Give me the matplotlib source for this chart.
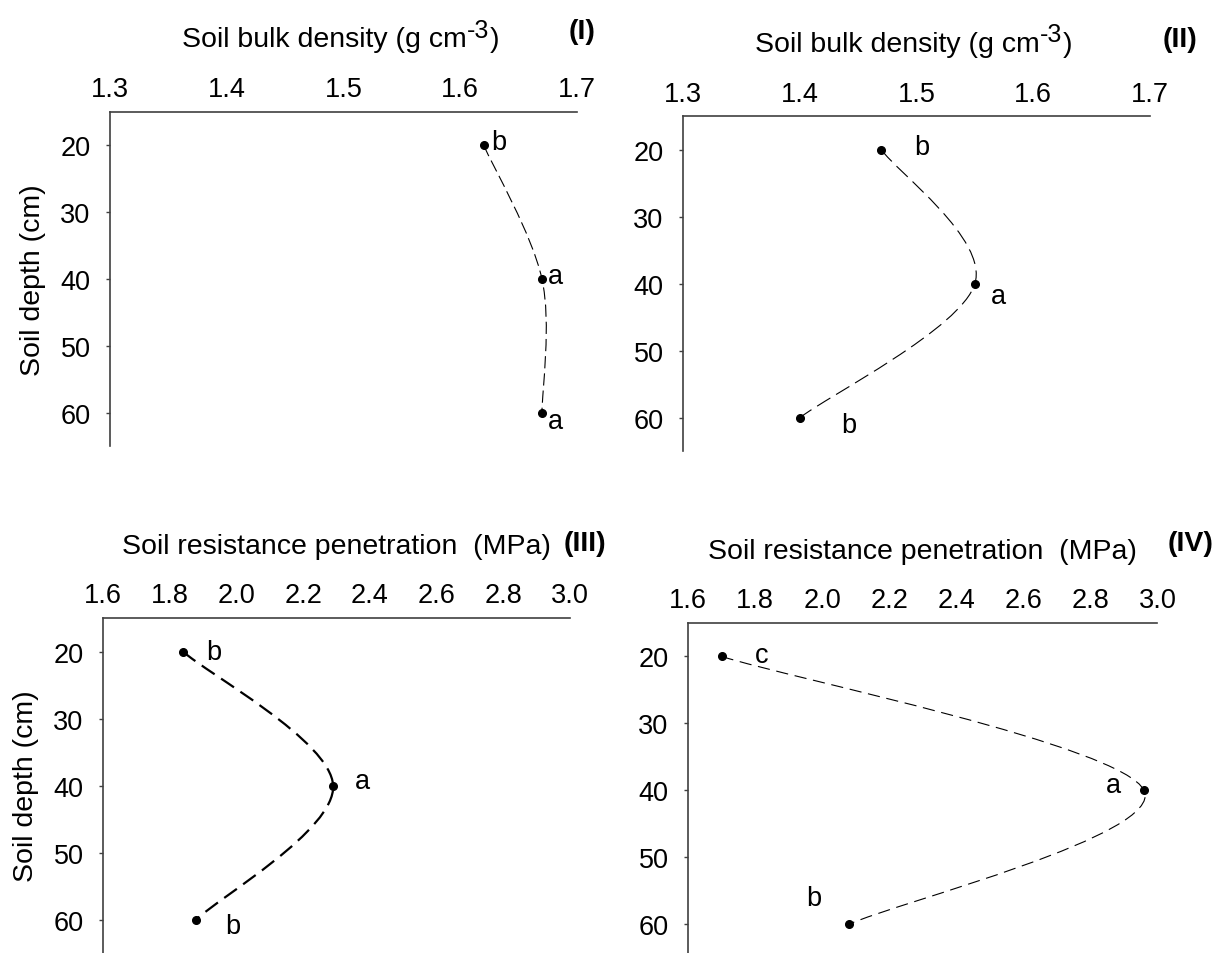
import numpy as np
import matplotlib
matplotlib.use('Agg')
import matplotlib.pyplot as plt
from matplotlib.path import Path
from matplotlib.patches import PathPatch

plt.rcParams['font.family'] = ['Liberation Sans', 'DejaVu Sans']
plt.rcParams['font.size'] = 19

# data
depth = [20, 40, 60]
bulk_I = [1.62, 1.67, 1.67]
bulk_II = [1.47, 1.55, 1.40]
pen_III = [1.84, 2.29, 1.88]
pen_IV = [1.70, 2.96, 2.08]
letters_I = ['b', 'a', 'a']
letters_II = ['b', 'a', 'b']
letters_III = ['b', 'a', 'b']
letters_IV = ['c', 'a', 'b']

bulk_ticks = [1.3, 1.4, 1.5, 1.6, 1.7]
pen_ticks = [1.6, 1.8, 2.0, 2.2, 2.4, 2.6, 2.8, 3.0]
depth_ticks = [20, 30, 40, 50, 60]

bulk_title = ['Soil bulk density (g cm', '-3', ')']
pen_title = 'Soil resistance penetration  (MPa)'

TXT = 20.5
SPINE = '#404040'


def smooth_path(x, y):
    # bezier segments like a spreadsheet "smoothed line"
    pts = np.column_stack([x, y]).astype(float)
    n = len(pts)
    verts = [pts[0]]
    codes = [Path.MOVETO]
    for i in range(n - 1):
        p0 = pts[max(i - 1, 0)]
        p1 = pts[i]
        p2 = pts[i + 1]
        p3 = pts[min(i + 2, n - 1)]
        verts += [p1 + (p2 - p0) / 6, p2 - (p3 - p1) / 6, p2]
        codes += [Path.CURVE4] * 3
    return Path(verts, codes)


fig = plt.figure(figsize=(12.16, 9.54), dpi=100)

panels = [
    # rect, x values, letters, ticks, title, tag, tag pos, letter offsets (pt), lw, dashes
    ([0.0905, 0.531, 0.384, 0.351], bulk_I, letters_I, bulk_ticks, bulk_title, '(I)', (1.01, 1.24),
     [(11, 2), (10, 2), (10, -6)], 0.8, (11, 4.5)),
    ([0.5617, 0.526, 0.384, 0.351], bulk_II, letters_II, bulk_ticks, bulk_title, '(II)', (1.064, 1.23),
     [(29, 2), (17, -9), (35, -5)], 0.8, (14, 6)),
    ([0.0847, 0.0, 0.384, 0.351], pen_III, letters_III, pen_ticks, pen_title, '(III)', (1.032, 1.225),
     [(22, 0), (21, 3), (26, -5)], 1.6, (7, 3.5)),
    ([0.5658, -0.005, 0.386, 0.351], pen_IV, letters_IV, pen_ticks, pen_title, '(IV)', (1.07, 1.24),
     [(29, 1), (-22, 4), (-25, 19)], 0.8, (11, 6)),
]

for idx, (rect, xv, lets, ticks, title, tag, tagpos, offs, lw, dash) in enumerate(panels):
    ax = fig.add_axes(rect)
    ax.set_xlim(ticks[0], ticks[-1])
    ax.set_ylim(65, 15)
    ax.xaxis.tick_top()
    ax.set_xticks(ticks)
    ax.set_xticklabels(['%.1f' % t for t in ticks])
    ax.set_yticks(depth_ticks)
    ax.spines['right'].set_visible(False)
    ax.spines['bottom'].set_visible(False)
    for s in ['top', 'left']:
        ax.spines[s].set_color(SPINE)
        ax.spines[s].set_linewidth(1.2)
    ax.tick_params(axis='x', length=0, pad=7, labelsize=19.5)
    ax.tick_params(axis='y', length=3, width=1, color=SPINE, pad=11, labelsize=19.5)

    patch = PathPatch(smooth_path(xv, depth), fill=False, edgecolor='black',
                      lw=lw, linestyle=(0, dash))
    ax.add_patch(patch)
    ax.plot(xv, depth, 'o', color='black', markersize=5.5, zorder=3)

    for xi, yi, let, off in zip(xv, depth, lets, offs):
        ax.annotate(let, (xi, yi), xytext=off, textcoords='offset points',
                    ha='center', va='center', fontsize=19.5)

    ty = 1.195
    if isinstance(title, list):
        t1 = ax.text(0.1535, ty, title[0], transform=ax.transAxes,
                     ha='left', va='baseline', fontsize=TXT)
        t2 = ax.annotate(title[1], xy=(1, ty), xycoords=(t1, ax.transAxes),
                         xytext=(0.5, 7), textcoords='offset points',
                         ha='left', va='baseline', fontsize=18)
        ax.annotate(title[2], xy=(1, ty), xycoords=(t2, ax.transAxes),
                    xytext=(0.5, 0), textcoords='offset points',
                    ha='left', va='baseline', fontsize=TXT)
    else:
        ax.text(0.5, ty, title, transform=ax.transAxes, ha='center', va='baseline',
                fontsize=TXT)
    ax.text(tagpos[0], tagpos[1], tag, transform=ax.transAxes, ha='center', va='center',
            fontsize=TXT, fontweight='bold')
    if idx % 2 == 0:
        ax.set_ylabel('Soil depth (cm)', fontsize=TXT)
        ax.yaxis.set_label_coords(-0.137, 0.5)

fig.savefig('out.png', dpi=100)
